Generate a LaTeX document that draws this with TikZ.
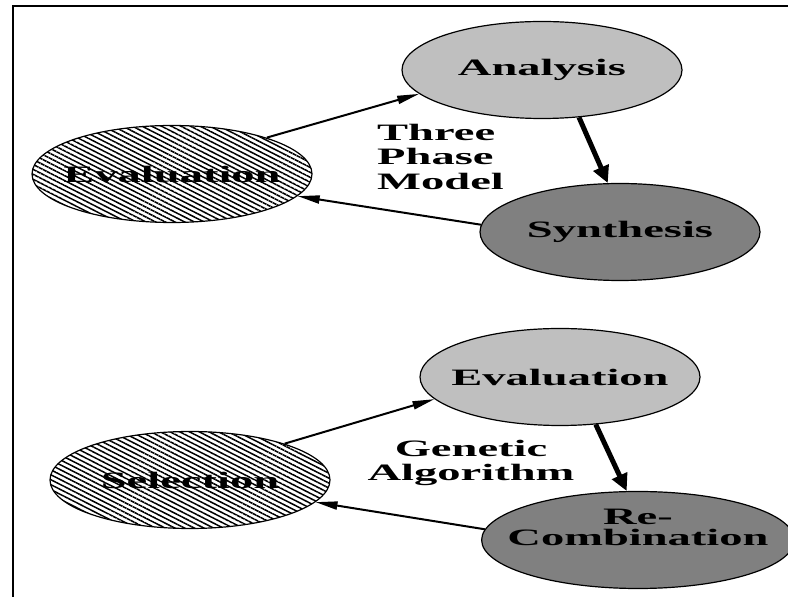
\documentclass[tikz,border=0pt]{standalone}
\usepackage{fontspec}
\usetikzlibrary{shapes.geometric,arrows.meta,patterns.meta}
\newfontfamily\stretchserif[FakeStretch=1.98]{Liberation Serif}
\newcommand{\phasefont}{\stretchserif\bfseries\fontsize{23.5pt}{24.5pt}\selectfont}
\definecolor{phaselight}{gray}{0.75}
\definecolor{phasedark}{gray}{0.5}

\begin{document}
\begin{tikzpicture}[
    x=1pt, y=1pt,
    frame/.style={line width=2pt},
    phase/.style={ellipse, draw, line width=1.2pt, minimum width=280pt,
                  minimum height=97pt, inner sep=-20pt, font=\phasefont},
    hatched/.style={phase,
                    pattern={Lines[angle=-27, distance=4.4pt, line width=1.5pt]}},
    lightphase/.style={phase, fill=phaselight},
    darkphase/.style={phase, fill=phasedark},
    link/.style={line width=2pt, -{Triangle[length=22pt, width=8pt]}},
    boldlink/.style={line width=5pt, -{Triangle[length=17pt, width=16pt]}},
    caption/.style={font=\phasefont, inner sep=0pt}
]
\useasboundingbox (0,0) rectangle (788,597);

% ---------- frame ----------
\draw[frame] (788,591) -- (13,591) -- (13,0);

% ---------- three phase model ----------
\node[hatched]    (eval)  at (172,423) {Evaluation};
\node[lightphase] (anal)  at (542,527) {Analysis};
\node[darkphase]  (synth) at (620,365) {Synthesis};
\node[caption, anchor=west, align=left] (tpm) at (377,440.5)
      {Three\\Phase\\Model};

\draw[link]     (eval.21.7)   -- (anal.191);
\draw[boldlink] (anal.308)    -- (synth.104.6);
\draw[link]     (synth.177.6) -- (eval.350);

% ---------- genetic algorithm ----------
\node[hatched]    (sel)    at (190,117) {Selection};
\node[lightphase] (evalga) at (560,220) {Evaluation};
\node[darkphase, text height=36pt, text depth=24pt] (recomb) at (638,57)
      {\shortstack{Re-\\[2pt]Combination}};
\node[caption, align=center] (ga) at (471,134) {Genetic\\Algorithm};

\draw[link]     (sel.21.7)     -- (evalga.190);
\draw[boldlink] (evalga.307)   -- (recomb.103);
\draw[link]     (recomb.176)   -- (sel.350);

\end{tikzpicture}
\end{document}
